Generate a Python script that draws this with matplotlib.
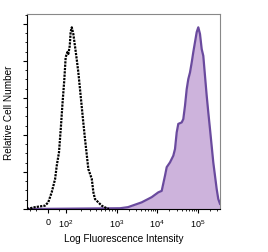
import numpy as np
import matplotlib
matplotlib.use("Agg")
import matplotlib.pyplot as plt
from matplotlib.ticker import FixedLocator, NullFormatter

# isotype control (black dotted)
ctrl_x = [-300, -112, -18, 1, 15, 30, 38, 50, 62, 71, 86, 97, 107, 112, 120, 125,
          132, 142, 153, 166, 179, 193, 208, 224, 242, 263, 281, 328, 352, 378,
          438, 509, 635, 700]
ctrl_y = [0.0, 0.05, 0.09, 0.18, 0.45, 0.81, 1.17, 1.53, 2.25, 2.79, 3.51, 4.10,
          4.24, 4.19, 4.41, 4.78, 4.91, 4.73, 4.41, 4.05, 3.69, 3.24, 2.79, 2.34,
          1.89, 1.44, 1.08, 0.81, 0.45, 0.27, 0.18, 0.09, 0.02, 0.0]

# stained sample (purple filled)
stain_x = [-300, 1189, 1884, 4145, 7370, 10758, 13020, 15670, 17240, 20750, 24980,
           27480, 30230, 33070, 40040, 43800, 48180, 53020, 57990, 63800, 70220,
           76800, 84500, 92960, 101700, 112000, 123500, 135200, 148900, 164100,
           179800, 198000, 238800, 289700, 317400, 350000]
stain_y = [0.0, 0.02, 0.05, 0.18, 0.32, 0.45, 0.49, 0.90, 1.13, 1.26, 1.44, 1.62,
           2.07, 2.30, 2.34, 2.43, 2.79, 3.24, 3.51, 3.69, 3.96, 4.24, 4.51, 4.78,
           4.91, 4.73, 4.32, 4.14, 3.60, 3.06, 2.61, 2.16, 1.26, 0.54, 0.27, 0.14]

tick_vals = [0, 1e2, 1e3, 1e4, 1e5]
tick_labels = ["0", "$10^2$", "$10^3$", "$10^4$", "$10^5$"]

plt.rcParams['font.family'] = ['Liberation Sans', 'DejaVu Sans']
plt.rcParams['mathtext.fontset'] = 'custom'
plt.rcParams['mathtext.rm'] = 'Liberation Sans'

# biexponential-like axis: anchors in asinh space -> axis position
anchor_x = np.array([-300, 0, 100, 1000, 1e4, 1e5, 3.5e5])
anchor_p = np.array([27, 48, 66, 117, 157, 198, 220], dtype=float)
anchor_a = np.arcsinh(anchor_x / 50.0)


def fwd(x):
    return np.interp(np.arcsinh(np.asarray(x) / 50.0), anchor_a, anchor_p)


def inv(p):
    return 50.0 * np.sinh(np.interp(np.asarray(p), anchor_p, anchor_a))


fig = plt.figure(figsize=(2.68, 2.53), dpi=100)
ax = fig.add_axes([27 / 268, 1 - 210 / 253, 193 / 268, 195 / 253])
ax.set_xscale("function", functions=(fwd, inv))

ax.fill_between(stain_x, stain_y, 0, color="#cdb3dc", lw=0)
ax.plot(stain_x, stain_y, color="#6a4a9e", lw=1.6)
ax.plot(ctrl_x, ctrl_y, color="black", lw=1.6, linestyle=(0, (1, 0.5)))

ax.set_xlim(-300, 3.5e5)
ax.set_ylim(0, 5.27)

ax.xaxis.set_major_locator(FixedLocator(tick_vals))
ax.set_xticklabels(tick_labels)
minors = [-200, -100, 50]
for k in range(2, 6):
    minors += [m * 10 ** k for m in range(2, 10)]
ax.xaxis.set_minor_locator(FixedLocator([m for m in minors if m < 3.5e5]))
ax.xaxis.set_minor_formatter(NullFormatter())

ax.yaxis.set_major_locator(FixedLocator([0, 1, 2, 3, 4, 5]))
ax.yaxis.set_minor_locator(FixedLocator(np.arange(0, 5.26, 0.25)))
ax.set_yticklabels([])

ax.tick_params(which="major", length=3, width=0.8, labelsize=6.5, pad=3)
ax.tick_params(which="minor", length=1.5, width=0.6)

for s in ["top", "right"]:
    ax.spines[s].set_color("#888888")
for s in ax.spines.values():
    s.set_linewidth(0.8)

ax.set_xlabel("Log Fluorescence Intensity", fontsize=7.2)
ax.set_ylabel("Relative Cell Number", fontsize=7.2)
ax.xaxis.set_label_coords(0.5, -0.125)
ax.yaxis.set_label_coords(-0.065, 0.5)

fig.savefig("out.png", dpi=100)
